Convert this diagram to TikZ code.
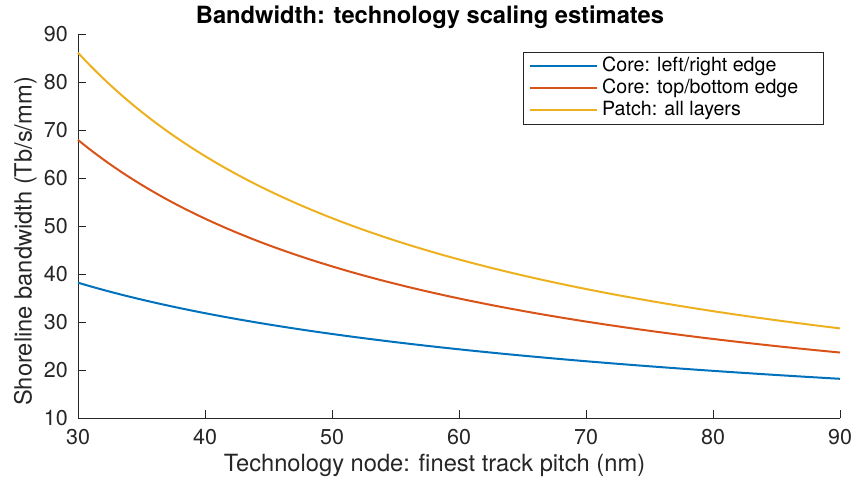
\documentclass[tikz,border=0pt]{standalone}
\usepackage{fontspec}
\setmainfont{TeX Gyre Heros}
\definecolor{mblue}{rgb}{0,0.447,0.741}
\definecolor{morange}{rgb}{0.85,0.325,0.098}
\definecolor{myellow}{rgb}{0.929,0.694,0.125}
\definecolor{maxis}{rgb}{0.15,0.15,0.15}
\tikzset{
  axisline/.style={draw=maxis, line width=1pt},
  curve/.style={line width=2pt},
  ticklab/.style={inner sep=0pt, text=maxis, font=\fontsize{21.5}{24}\selectfont},
  axlab/.style={inner sep=0pt, text=maxis, font=\fontsize{23.7}{26}\selectfont},
  titlelab/.style={inner sep=0pt, text=black, font=\fontsize{23.7}{26}\selectfont\bfseries},
  leglab/.style={inner sep=0pt, anchor=base west, text=black, font=\fontsize{19.6}{22}\selectfont},
}
\begin{document}
\begin{tikzpicture}[x=1pt,y=1pt]
\useasboundingbox (0,0) rectangle (855,478);
% axes frame
\coordinate (O) at (78,59.7);
\coordinate (XE) at (840,59.7);
\coordinate (YE) at (78,443);
\draw[axisline] (YE) -- (O) -- (XE);
% x ticks
\foreach \v [count=\i] in {30,40,...,90}{
  \pgfmathsetmacro{\px}{78+12.7*(\v-30)}
  \draw[axisline] (\px,59.7) -- (\px,67.7);
  \node[ticklab, anchor=base] (xt\i) at (\px,33) {\v};
}
% y ticks
\foreach \v [count=\i] in {10,20,...,90}{
  \pgfmathsetmacro{\py}{59.7+4.79125*(\v-10)}
  \draw[axisline] (78,\py) -- (86,\py);
  \node[ticklab, anchor=base east] (yt\i) at (68,\py-7) {\v};
}
% curves
\begin{scope}[shift={(78pt,59.7pt)}, x=12.7pt, y=4.79125pt]
  \draw[curve, myellow] plot[domain=30:90, samples=120, smooth] (\x-30, {2589/\x-10});
  \draw[curve, morange] plot[domain=30:90, samples=120, smooth] (\x-30, {68.1*(30/\x)^0.96-10});
  \draw[curve, mblue] plot[domain=30:90, samples=120, smooth] (\x-30, {47.46*sqrt(30/\x)-9.16-10});
\end{scope}
% labels
\node[axlab, anchor=base] (xlab) at (434.5,6.3) {Technology node: finest track pitch (nm)};
\node[axlab, anchor=base, rotate=90] (ylab) at (31.7,236.5) {Shoreline bandwidth (Tb/s/mm)};
\node[titlelab, anchor=base] (title) at (430,454) {Bandwidth: technology scaling estimates};
% legend
\draw[draw=maxis, line width=1pt, fill=white] (523.7,353.7) rectangle (823.3,425.3);
\coordinate (l1a) at (530,412); \coordinate (l1b) at (596.7,412);
\coordinate (l2a) at (530,389.7); \coordinate (l2b) at (596.7,389.7);
\coordinate (l3a) at (530,368); \coordinate (l3b) at (596.7,368);
\draw[curve, mblue] (l1a) -- (l1b);
\draw[curve, morange] (l2a) -- (l2b);
\draw[curve, myellow] (l3a) -- (l3b);
\node[leglab] (lg1) at (602,406.3) {Core: left/right edge};
\node[leglab] (lg2) at (602,384) {Core: top/bottom edge};
\node[leglab] (lg3) at (602,362.3) {Patch: all layers};
\end{tikzpicture}
\end{document}
